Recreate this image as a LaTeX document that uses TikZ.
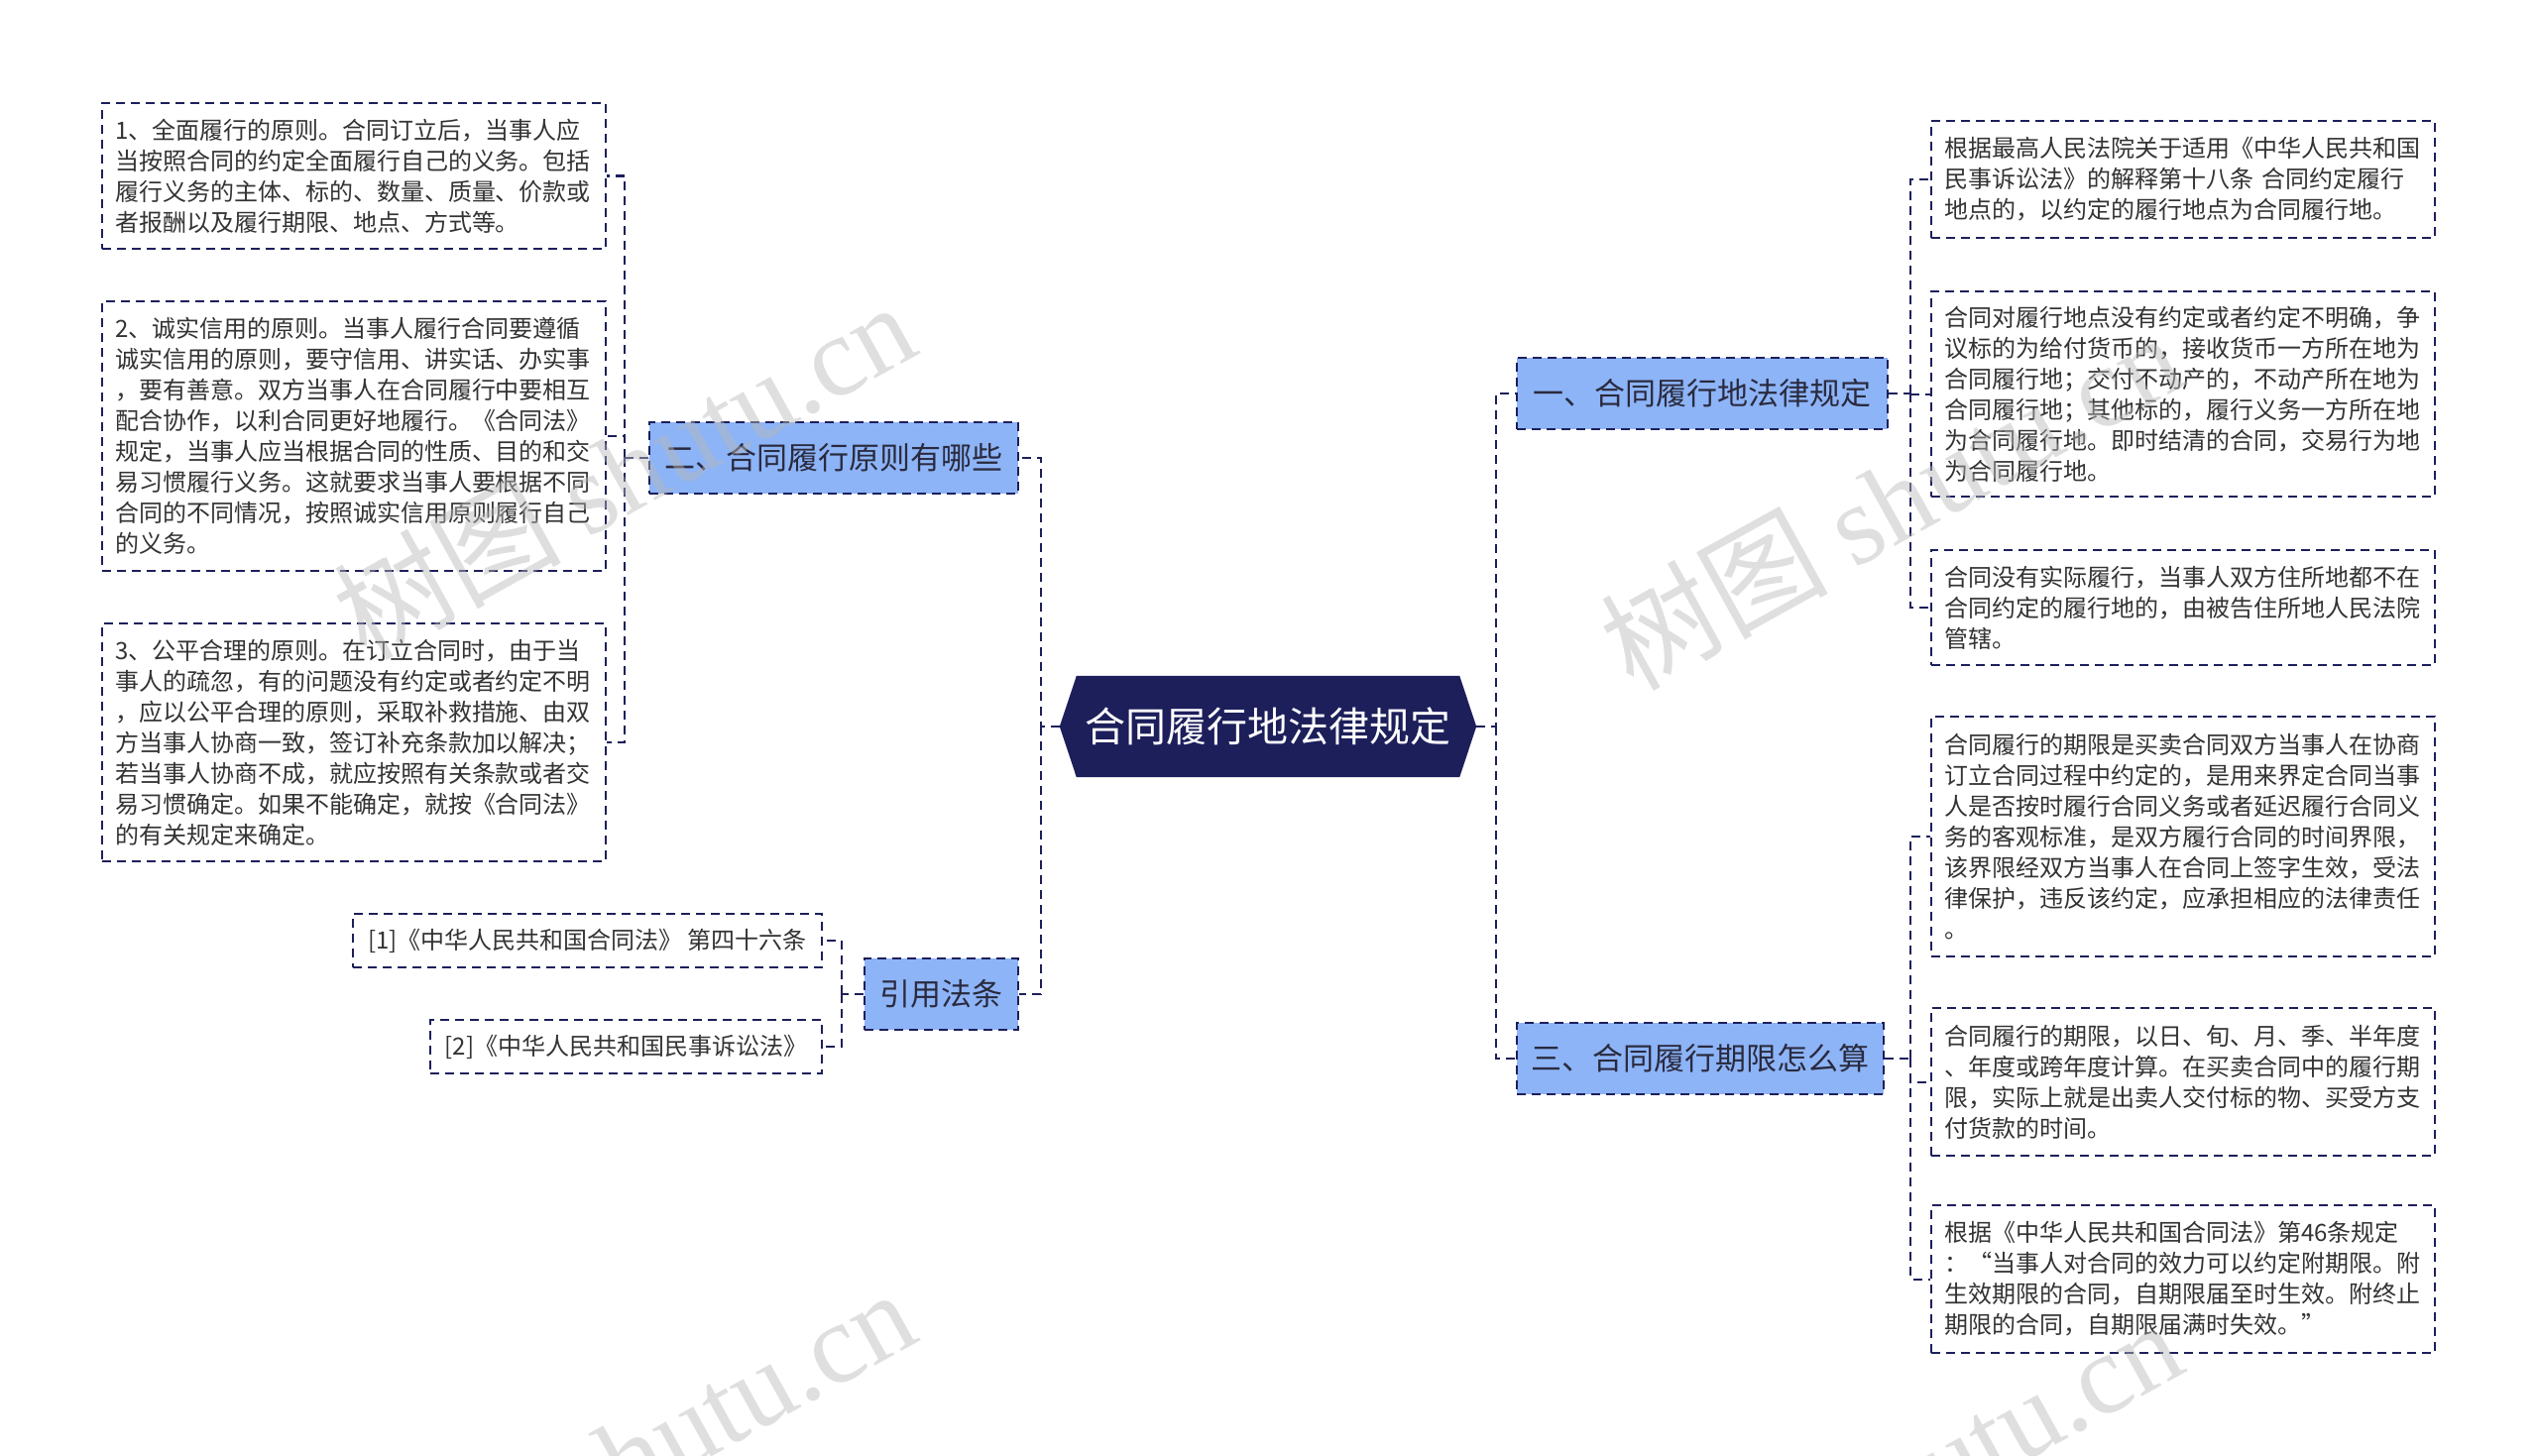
\documentclass[tikz,border=0pt]{standalone}
\usepackage{fontspec}
\setmainfont{Noto Sans CJK SC}
\newfontfamily\wmserif{Liberation Serif}
\usetikzlibrary{calc}
\definecolor{navy}{HTML}{1D1F5B}
\definecolor{bluefill}{HTML}{8DB4F7}
\definecolor{leaftext}{HTML}{333333}
\definecolor{branchtext}{HTML}{2A2A3E}
\definecolor{wm}{HTML}{B8B8B8}
\begin{document}
\begin{tikzpicture}[x=1pt,y=-1pt,
  dsh/.style={dash pattern=on 9pt off 6pt, line width=2pt, draw=navy},
  leaf/.style={dsh, fill=white, minimum width=508pt, inner xsep=13pt, inner ysep=0pt, text width=482pt, align=left, font=\fontsize{24}{31}\selectfont, text=leaftext},
  refbox/.style={dsh, fill=white, minimum height=54pt, inner xsep=10pt, font=\fontsize{24}{31}\selectfont, text=leaftext},
  branch/.style={dsh, fill=bluefill, minimum height=72pt, inner sep=0pt, font=\fontsize{31}{36}\selectfont, text=branchtext},
  conn/.style={dsh},
  wmk/.style={text=wm, opacity=0.45, rotate=29, anchor=base west, font=\fontsize{115}{120}\selectfont}
]
\useasboundingbox (0,0) rectangle (2560,1469);

% center
\node[minimum width=386pt, minimum height=102pt, inner sep=0pt] (c) at (1279,733) {};
\coordinate (cr) at ($(c.east)+(17,0)$);
\coordinate (cl) at ($(c.west)+(-17,0)$);
\fill[navy] (c.north west) -- (c.north east) -- (cr) -- (c.south east) -- (c.south west) -- (cl) -- cycle;
\node[text=white, font=\fontsize{41}{46}\selectfont] (ct) at (c) {合同履行地法律规定};

% branches
\node[branch, minimum width=374pt] (b1) at (1717,397) {一、合同履行地法律规定};
\node[branch, minimum width=370pt] (b3) at (1715,1068) {三、合同履行期限怎么算};
\node[branch, minimum width=372pt] (b2) at (841,462) {二、合同履行原则有哪些};
\node[branch, minimum width=155pt] (b4) at (949.5,1003) {引用法条};

% left leaves
\node[leaf, minimum height=147pt] (l1) at (357,177.5) {1、全面履行的原则。合同订立后，当事人应\\当按照合同的约定全面履行自己的义务。包括\\履行义务的主体、标的、数量、质量、价款或\\者报酬以及履行期限、地点、方式等。};
\node[leaf, minimum height=272pt] (l2) at (357,440) {2、诚实信用的原则。当事人履行合同要遵循\\诚实信用的原则，要守信用、讲实话、办实事\\，要有善意。双方当事人在合同履行中要相互\\配合协作，以利合同更好地履行。《合同法》\\规定，当事人应当根据合同的性质、目的和交\\易习惯履行义务。这就要求当事人要根据不同\\合同的不同情况，按照诚实信用原则履行自己\\的义务。};
\node[leaf, minimum height=240pt] (l3) at (357,749) {3、公平合理的原则。在订立合同时，由于当\\事人的疏忽，有的问题没有约定或者约定不明\\，应以公平合理的原则，采取补救措施、由双\\方当事人协商一致，签订补充条款加以解决；\\若当事人协商不成，就应按照有关条款或者交\\易习惯确定。如果不能确定，就按《合同法》\\的有关规定来确定。};

\node[refbox, minimum width=473pt] (f1) at (592.5,949) {[1]《中华人民共和国合同法》 第四十六条};
\node[refbox, minimum width=395pt] (f2) at (631.5,1056) {[2]《中华人民共和国民事诉讼法》};

% right leaves
\node[leaf, minimum height=118pt] (r1) at (2202,181) {根据最高人民法院关于适用《中华人民共和国\\民事诉讼法》的解释第十八条 合同约定履行\\地点的，以约定的履行地点为合同履行地。};
\node[leaf, minimum height=207pt] (r2) at (2202,397.5) {合同对履行地点没有约定或者约定不明确，争\\议标的为给付货币的，接收货币一方所在地为\\合同履行地；交付不动产的，不动产所在地为\\合同履行地；其他标的，履行义务一方所在地\\为合同履行地。即时结清的合同，交易行为地\\为合同履行地。};
\node[leaf, minimum height=116pt] (r3) at (2202,613) {合同没有实际履行，当事人双方住所地都不在\\合同约定的履行地的，由被告住所地人民法院\\管辖。};
\node[leaf, minimum height=242pt] (r4) at (2202,844) {合同履行的期限是买卖合同双方当事人在协商\\订立合同过程中约定的，是用来界定合同当事\\人是否按时履行合同义务或者延迟履行合同义\\务的客观标准，是双方履行合同的时间界限，\\该界限经双方当事人在合同上签字生效，受法\\律保护，违反该约定，应承担相应的法律责任\\。};
\node[leaf, minimum height=149pt] (r5) at (2202,1091.5) {合同履行的期限，以日、旬、月、季、半年度\\、年度或跨年度计算。在买卖合同中的履行期\\限，实际上就是出卖人交付标的物、买受方支\\付货款的时间。};
\node[leaf, minimum height=149pt] (r6) at (2202,1290.5) {根据《中华人民共和国合同法》第46条规定\\：“当事人对合同的效力可以约定附期限。附\\生效期限的合同，自期限届至时生效。附终止\\期限的合同，自期限届满时失效。”};

% connectors
\coordinate (jr) at (1509,733);
\draw[conn] (cr) -- (jr) |- (b1.west);
\draw[conn] (jr) |- (b3.west);
\coordinate (jl) at (1050,733);
\draw[conn] (cl) -- (jl) |- (b2.east);
\draw[conn] (jl) |- (b4.east);

\coordinate (j1) at (1927,397);
\draw[conn] (b1.east) -- (j1);
\draw[conn] (j1) |- (r1.west);
\draw[conn] (j1) |- (r2.west);
\draw[conn] (j1) |- (r3.west);

\coordinate (j3) at (1927,1068);
\draw[conn] (b3.east) -- (j3);
\draw[conn] (j3) |- (r4.west);
\draw[conn] (j3) |- (r5.west);
\draw[conn] (j3) |- (r6.west);

\coordinate (j2) at (630,462);
\draw[conn] (b2.west) -- (j2);
\draw[conn] (j2) |- (l1.east);
\draw[conn] (j2) |- (l2.east);
\draw[conn] (j2) |- (l3.east);

\coordinate (j4) at (849,1003);
\draw[conn] (b4.west) -- (j4);
\draw[conn] (j4) |- (f1.east);
\draw[conn] (j4) |- (f2.east);

% watermarks
\node[wmk] (w1) at (366,669) {树图 {\wmserif shutu.cn}};
\node[wmk] (w2) at (1644,700) {树图 {\wmserif shutu.cn}};
\node[wmk] (w3) at (366,1665) {树图 {\wmserif shutu.cn}};
\node[wmk] (w4) at (1644,1696) {树图 {\wmserif shutu.cn}};
\end{tikzpicture}
\end{document}
